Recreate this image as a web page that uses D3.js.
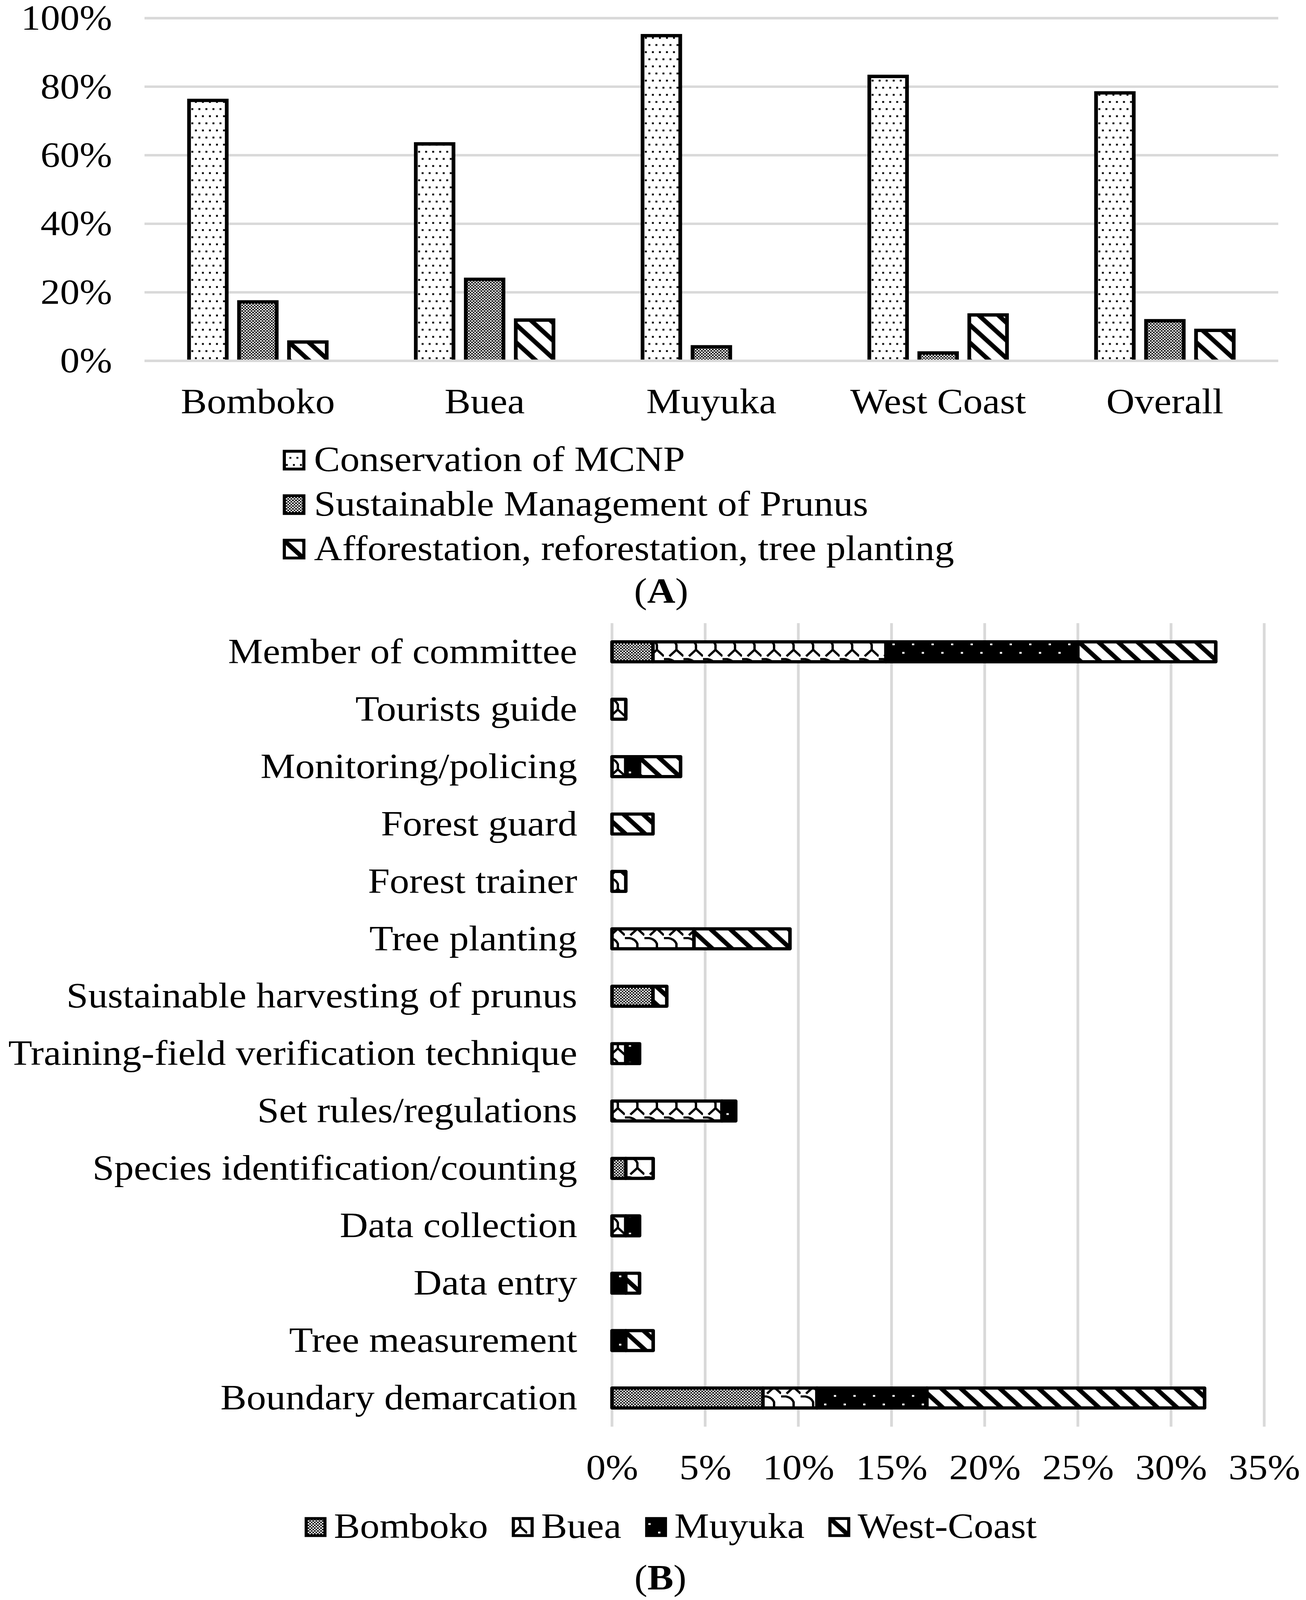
<!DOCTYPE html>
<html><head><meta charset="utf-8">
<script src="https://cdn.jsdelivr.net/npm/d3@7"></script>
<style>
html,body{margin:0;padding:0;background:#fff;overflow:hidden;}
svg{display:block;}
text{font-family:"Liberation Serif","Times New Roman",serif;fill:#000;}
</style>
</head><body><svg id="c"></svg>
<script>
// ---------- Data: panel A ----------
const regionsA = ["Bomboko", "Buea", "Muyuka", "West Coast", "Overall"];
const seriesA = ["Conservation of MCNP", "Sustainable Management of Prunus", "Afforestation, reforestation, tree planting"];
const conservation = [76.0, 63.3, 94.9, 83.0, 78.2];
const sustainable = [17.2, 23.8, 4.1, 2.3, 11.7];
const afforestation = [5.5, 11.9, 0, 13.4, 8.9];
const ticksA = [0, 20, 40, 60, 80, 100];

// ---------- Data: panel B ----------
const activities = ["Member of committee", "Tourists guide", "Monitoring/policing", "Forest guard", "Forest trainer",
  "Tree planting", "Sustainable harvesting of prunus", "Training-field verification technique", "Set rules/regulations",
  "Species identification/counting", "Data collection", "Data entry", "Tree measurement", "Boundary demarcation"];
const seriesB = ["Bomboko", "Buea", "Muyuka", "West-Coast"];
const bomboko   = [2.2, 0,    0,    0,   0,    0,    2.2, 0,    0,    0.74, 0,    0,    0,    8.1];
const buea      = [12.5, 0.74, 0.74, 0,   0.74, 4.4,  0,   0.74, 5.9,  1.47, 0.74, 0,    0,    2.9];
const muyuka    = [10.3, 0,    0.74, 0,   0,    0,    0,   0.74, 0.74, 0,    0.74, 0.74, 0.74, 5.9];
const westCoast = [7.4, 0,    2.2,  2.2, 0,    5.15, 0.74, 0,   0,    0,    0,    0.74, 1.47, 14.9];
const ticksB = [0, 5, 10, 15, 20, 25, 30, 35];

const W = 3344, H = 4496;
const vw = window.innerWidth || W, vh = window.innerHeight || H;
const svg = d3.select("#c")
  .attr("viewBox", `0 0 ${W} ${H}`)
  .attr("preserveAspectRatio", "none")
  .attr("width", vw).attr("height", vh);
svg.append("rect").attr("width", W).attr("height", H).attr("fill", "#fff");
const defs = svg.append("defs");

// ---------- Patterns ----------
function pat(id, w, h) {
  return defs.append("pattern").attr("id", id).attr("patternUnits", "userSpaceOnUse")
    .attr("width", w).attr("height", h);
}
{ // sparse dots (Conservation)
  const p = pat("pDots", 36, 40);
  p.append("rect").attr("width", 36).attr("height", 40).attr("fill", "#fff");
  [[0, 0], [18, 0], [9, 20], [27, 20]].forEach(([x, y]) =>
    p.append("rect").attr("x", x + 3).attr("y", y + 4).attr("width", 5).attr("height", 5).attr("fill", "#000"));
}
{ // checker (Sustainable / Bomboko)
  const p = pat("pCheck", 8, 8);
  p.append("rect").attr("width", 8).attr("height", 8).attr("fill", "#fff");
  p.append("rect").attr("width", 4).attr("height", 4).attr("fill", "#000");
  p.append("rect").attr("x", 4).attr("y", 4).attr("width", 4).attr("height", 4).attr("fill", "#000");
}
{ // wide downward diagonal stripes (Afforestation / West-Coast)
  const p = pat("pStripe", 50, 50);
  p.append("rect").attr("width", 50).attr("height", 50).attr("fill", "#fff");
  p.append("polygon").attr("points", "0,0 17,0 50,33 50,50").attr("fill", "#000");
  p.append("polygon").attr("points", "0,33 17,50 0,50").attr("fill", "#000");
}
{ // wave (Buea)
  const p = pat("pWave", 50, 56);
  p.append("rect").attr("width", 50).attr("height", 56).attr("fill", "#fff");
  p.append("path").attr("d", "M0,4 L12,4 Q27,7 32,20 L32,34 M32,34 L14,52 M32,34 L50,52")
    .attr("fill", "none").attr("stroke", "#000").attr("stroke-width", 6);
}
{ // white dots on black (Muyuka)
  const p = pat("pDark", 50, 48);
  p.append("rect").attr("width", 50).attr("height", 48).attr("fill", "#000");
  p.append("rect").attr("x", 10).attr("y", 8).attr("width", 6).attr("height", 5).attr("fill", "#fff");
  p.append("rect").attr("x", 35).attr("y", 32).attr("width", 6).attr("height", 5).attr("fill", "#fff");
}

const fillA = d3.scaleOrdinal().domain(seriesA).range(["url(#pDots)", "url(#pCheck)", "url(#pStripe)"]);
const fillB = d3.scaleOrdinal().domain(seriesB).range(["url(#pCheck)", "url(#pWave)", "url(#pDark)", "url(#pStripe)"]);

// ================= Panel A =================
const A = { left: 370, right: 3273, top: 51, bottom: 1014 };
const x0 = d3.scaleBand().domain(regionsA).range([A.left, A.right]);
const x1 = d3.scaleBand().domain(seriesA).range([0, x0.bandwidth()]).paddingInner(0.246).paddingOuter(0.891);
const yA = d3.scaleLinear().domain([0, 100]).range([A.bottom, A.top]);

const gA = svg.append("g");
gA.selectAll("line.grid").data(ticksA.filter(t => t > 0)).join("line")
  .attr("x1", A.left).attr("x2", A.right).attr("y1", d => yA(d)).attr("y2", d => yA(d))
  .attr("stroke", "#d9d9d9").attr("stroke-width", 7);

const tableA = regionsA.map((r, i) => ({ region: r, vals: [conservation[i], sustainable[i], afforestation[i]] }));
const groups = gA.selectAll("g.reg").data(tableA).join("g").attr("transform", d => `translate(${x0(d.region)},0)`);
groups.each(function (d) {
  const g = d3.select(this);
  seriesA.forEach((s, k) => {
    const v = d.vals[k];
    if (!(v > 0)) return;
    const xx = x1(s), w = x1.bandwidth(), yt = yA(v), yb = yA(0);
    g.append("rect").attr("x", xx).attr("y", yt).attr("width", w).attr("height", yb - yt).attr("fill", fillA(s));
    g.append("path").attr("d", `M${xx},${yb} L${xx},${yt} L${xx + w},${yt} L${xx + w},${yb}`)
      .attr("fill", "none").attr("stroke", "#000").attr("stroke-width", 9.5).attr("stroke-linejoin", "miter");
  });
});
gA.append("line").attr("x1", A.left).attr("x2", A.right).attr("y1", yA(0)).attr("y2", yA(0))
  .attr("stroke", "#d9d9d9").attr("stroke-width", 7);

const axA = gA.append("g").attr("transform", `translate(${A.left},0)`)
  .call(d3.axisLeft(yA).tickValues(ticksA).tickFormat(d => d + "%").tickSize(0).tickPadding(83));
axA.select(".domain").remove();
axA.selectAll("text").attr("font-size", 100).attr("font-family", "Liberation Serif");

const axAx = gA.append("g").attr("transform", `translate(0,${A.bottom})`)
  .call(d3.axisBottom(x0).tickSize(0).tickPadding(76));
axAx.select(".domain").remove();
axAx.selectAll("text").attr("font-size", 100).attr("font-family", "Liberation Serif");

// legend A
const legA = svg.append("g");
const legACenters = [1293, 1418, 1543];
seriesA.forEach((s, i) => {
  const cy = legACenters[i];
  legA.append("rect").attr("x", 728).attr("y", cy - 25).attr("width", 50).attr("height", 50)
    .attr("fill", fillA(s)).attr("stroke", "#000").attr("stroke-width", 8);
  legA.append("text").attr("x", 804).attr("y", cy + 31).attr("font-size", 100).text(s);
});
const tA = svg.append("text").attr("x", 1693).attr("y", 1694).attr("text-anchor", "middle").attr("font-size", 100);
tA.append("tspan").text("(");
tA.append("tspan").attr("font-weight", "bold").text("A");
tA.append("tspan").text(")");

// ================= Panel B =================
const B = { left: 1567, right: 3237, top: 1751, bottom: 4009 };
const xB = d3.scaleLinear().domain([0, 35]).range([B.left, B.right]);
const yB = d3.scaleBand().domain(activities).range([B.top, B.bottom]).paddingInner(0.653).paddingOuter(0.3265);

const gB = svg.append("g");
gB.selectAll("line.gridB").data(ticksB).join("line")
  .attr("x1", d => xB(d)).attr("x2", d => xB(d)).attr("y1", B.top).attr("y2", B.bottom)
  .attr("stroke", "#d9d9d9").attr("stroke-width", 7);

const tableB = activities.map((a, i) => ({
  activity: a, "Bomboko": bomboko[i], "Buea": buea[i], "Muyuka": muyuka[i], "West-Coast": westCoast[i]
}));
const stacked = d3.stack().keys(seriesB)(tableB);
stacked.forEach(layer => {
  gB.append("g").selectAll("rect").data(layer.filter(d => d[1] - d[0] > 0)).join("rect")
    .attr("x", d => xB(d[0])).attr("width", d => xB(d[1]) - xB(d[0]))
    .attr("y", d => yB(d.data.activity)).attr("height", yB.bandwidth())
    .attr("fill", fillB(layer.key)).attr("stroke", "#000").attr("stroke-width", 9).attr("stroke-linejoin", "round");
});

const axBy = gB.append("g").attr("transform", `translate(${B.left},0)`)
  .call(d3.axisLeft(yB).tickSize(0).tickPadding(89));
axBy.select(".domain").remove();
axBy.selectAll("text").attr("font-size", 100).attr("font-family", "Liberation Serif");

const axBx = gB.append("g").attr("transform", `translate(0,${B.bottom})`)
  .call(d3.axisBottom(xB).tickValues(ticksB).tickFormat(d => d + "%").tickSize(0).tickPadding(77));
axBx.select(".domain").remove();
axBx.selectAll("text").attr("font-size", 100).attr("font-family", "Liberation Serif");

// legend B (horizontal)
const legB = svg.append("g");
let lx = 780;
const lcy = 4291;
seriesB.forEach(s => {
  legB.append("rect").attr("x", lx + 4).attr("y", lcy - 24).attr("width", 48).attr("height", 48)
    .attr("fill", fillB(s)).attr("stroke", "#000").attr("stroke-width", 8);
  const t = legB.append("text").attr("x", lx + 75).attr("y", lcy + 30).attr("font-size", 100).text(s);
  const w = t.node().getComputedTextLength();
  lx = lx + 75 + w + 61;
});
const tB = svg.append("text").attr("x", 1691).attr("y", 4466).attr("text-anchor", "middle").attr("font-size", 100);
tB.append("tspan").text("(");
tB.append("tspan").attr("font-weight", "bold").text("B");
tB.append("tspan").text(")");
</script>
</body></html>
